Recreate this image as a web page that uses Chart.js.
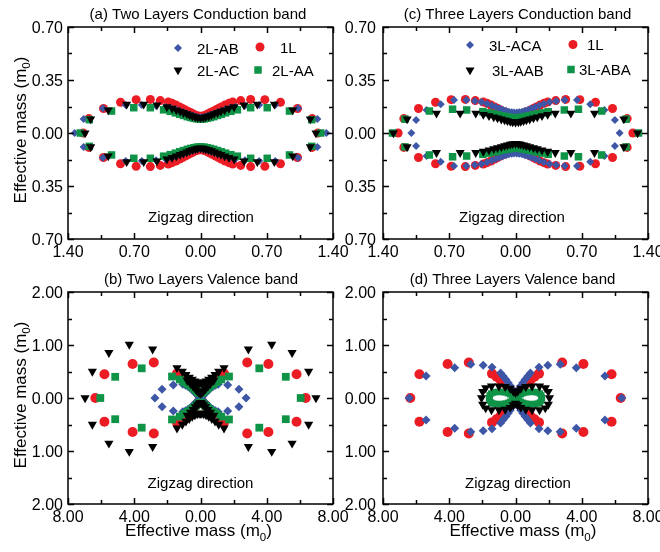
<!DOCTYPE html>
<html>
<head>
<meta charset="utf-8">
<script src="https://cdn.jsdelivr.net/npm/chart.js@4/dist/chart.umd.min.js"></script>
<style>
  html, body { margin: 0; padding: 0; background: #fff; }
  #figure { position: relative; width: 660px; height: 552px; }
  #figure canvas { position: absolute; left: 0; top: 0; }
</style>
</head>
<body>
<div id="figure">
  <canvas id="panelA" width="660" height="552"></canvas>
  <canvas id="panelC" width="660" height="552"></canvas>
  <canvas id="panelB" width="660" height="552"></canvas>
  <canvas id="panelD" width="660" height="552"></canvas>
</div>
<script>
// 有効質量の方向依存性（極座標を直交座標で表示）
// 各点は [横方向の有効質量, 縦方向の有効質量]

// 単層（1L）：伝導帯・価電子帯ともに2層・3層のパネルで共通
const oneLayerCB = [
    [-1.24, 0], [-1.18, 0.095], [-1.025, 0.162], [-0.845, 0.203], [-0.68, 0.22], [-0.53, 0.222], [-0.425, 0.214], [-0.34, 0.205], [-0.3, 0.196], [-0.26, 0.185], [-0.22, 0.172], [-0.19, 0.162], [-0.16, 0.152], [-0.13, 0.142], [-0.1, 0.133], [-0.075, 0.125], [-0.05, 0.118], [-0.025, 0.113], [0, 0.11],
    [0.025, 0.113], [0.05, 0.118], [0.075, 0.125], [0.1, 0.133], [0.13, 0.142], [0.16, 0.152], [0.19, 0.162], [0.22, 0.172], [0.26, 0.185], [0.3, 0.196], [0.34, 0.205], [0.425, 0.214], [0.53, 0.222], [0.68, 0.22], [0.845, 0.203], [1.025, 0.162], [1.18, 0.095], [1.24, 0],
    [-1.18, -0.095], [-1.025, -0.162], [-0.845, -0.203], [-0.68, -0.22], [-0.53, -0.222], [-0.425, -0.214], [-0.34, -0.205], [-0.3, -0.196], [-0.26, -0.185], [-0.22, -0.172], [-0.19, -0.162], [-0.16, -0.152], [-0.13, -0.142], [-0.1, -0.133], [-0.075, -0.125], [-0.05, -0.118], [-0.025, -0.113], [0, -0.11],
    [0.025, -0.113], [0.05, -0.118], [0.075, -0.125], [0.1, -0.133], [0.13, -0.142], [0.16, -0.152], [0.19, -0.162], [0.22, -0.172], [0.26, -0.185], [0.3, -0.196], [0.34, -0.205], [0.425, -0.214], [0.53, -0.222], [0.68, -0.22], [0.845, -0.203], [1.025, -0.162], [1.18, -0.095]
];
const oneLayerVB = [
    [-6.35, 0], [-5.8, 0.447], [-4.1, 0.64], [-2.82, 0.67], [-1.42, 0.46], [-1.15, 0.4], [-0.92, 0.345], [-0.72, 0.29], [-0.54, 0.235], [-0.38, 0.18], [-0.25, 0.13], [-0.14, 0.085], [-0.06, 0.045],
    [0.06, 0.045], [0.14, 0.085], [0.25, 0.13], [0.38, 0.18], [0.54, 0.235], [0.72, 0.29], [0.92, 0.345], [1.15, 0.4], [1.42, 0.46], [2.82, 0.67], [4.1, 0.64], [5.8, 0.447], [6.35, 0],
    [-5.8, -0.447], [-4.1, -0.64], [-2.82, -0.67], [-1.42, -0.46], [-1.15, -0.4], [-0.92, -0.345], [-0.72, -0.29], [-0.54, -0.235], [-0.38, -0.18], [-0.25, -0.13], [-0.14, -0.085], [-0.06, -0.045],
    [0.06, -0.045], [0.14, -0.085], [0.25, -0.13], [0.38, -0.18], [0.54, -0.235], [0.72, -0.29], [0.92, -0.345], [1.15, -0.4], [1.42, -0.46], [2.82, -0.67], [4.1, -0.64], [5.8, -0.447]
];

// 2層：伝導帯
const ab2CB = [
    [-1.33, 0], [-1.235, 0.092], [-1.03, 0.163], [-0.79, 0.185], [-0.62, 0.185], [-0.47, 0.18], [-0.37, 0.172], [-0.31, 0.164], [-0.26, 0.155], [-0.22, 0.146], [-0.18, 0.137], [-0.145, 0.129], [-0.11, 0.121], [-0.08, 0.114], [-0.05, 0.108], [-0.025, 0.104], [0, 0.102],
    [0.025, 0.104], [0.05, 0.108], [0.08, 0.114], [0.11, 0.121], [0.145, 0.129], [0.18, 0.137], [0.22, 0.146], [0.26, 0.155], [0.31, 0.164], [0.37, 0.172], [0.47, 0.18], [0.62, 0.185], [0.79, 0.185], [1.03, 0.163], [1.235, 0.092], [1.33, 0],
    [-1.235, -0.092], [-1.03, -0.163], [-0.79, -0.185], [-0.62, -0.185], [-0.47, -0.18], [-0.37, -0.172], [-0.31, -0.164], [-0.26, -0.155], [-0.22, -0.146], [-0.18, -0.137], [-0.145, -0.129], [-0.11, -0.121], [-0.08, -0.114], [-0.05, -0.108], [-0.025, -0.104], [0, -0.102],
    [0.025, -0.104], [0.05, -0.108], [0.08, -0.114], [0.11, -0.121], [0.145, -0.129], [0.18, -0.137], [0.22, -0.146], [0.26, -0.155], [0.31, -0.164], [0.37, -0.172], [0.47, -0.18], [0.62, -0.185], [0.79, -0.185], [1.03, -0.163], [1.235, -0.092]
];
const ac2CB = [
    [-1.22, 0], [-1.16, 0.092], [-0.975, 0.152], [-0.78, 0.19], [-0.6, 0.19], [-0.46, 0.185], [-0.355, 0.172], [-0.3, 0.162], [-0.255, 0.152], [-0.215, 0.143], [-0.18, 0.134], [-0.145, 0.126], [-0.115, 0.118], [-0.085, 0.111], [-0.055, 0.106], [-0.03, 0.102], [0, 0.1],
    [0.03, 0.102], [0.055, 0.106], [0.085, 0.111], [0.115, 0.118], [0.145, 0.126], [0.18, 0.134], [0.215, 0.143], [0.255, 0.152], [0.3, 0.162], [0.355, 0.172], [0.46, 0.185], [0.6, 0.19], [0.78, 0.19], [0.975, 0.152], [1.16, 0.092], [1.22, 0],
    [-1.16, -0.092], [-0.975, -0.152], [-0.78, -0.19], [-0.6, -0.19], [-0.46, -0.185], [-0.355, -0.172], [-0.3, -0.162], [-0.255, -0.152], [-0.215, -0.143], [-0.18, -0.134], [-0.145, -0.126], [-0.115, -0.118], [-0.085, -0.111], [-0.055, -0.106], [-0.03, -0.102], [0, -0.1],
    [0.03, -0.102], [0.055, -0.106], [0.085, -0.111], [0.115, -0.118], [0.145, -0.126], [0.18, -0.134], [0.215, -0.143], [0.255, -0.152], [0.3, -0.162], [0.355, -0.172], [0.46, -0.185], [0.6, -0.19], [0.78, -0.19], [0.975, -0.152], [1.16, -0.092]
];
const aa2CB = [
    [-1.27, 0], [-1.175, 0.088], [-0.94, 0.145], [-0.705, 0.167], [-0.53, 0.167], [-0.39, 0.153], [-0.32, 0.143], [-0.265, 0.133], [-0.22, 0.124], [-0.18, 0.116], [-0.14, 0.108], [-0.105, 0.102], [-0.07, 0.097], [-0.04, 0.094], [-0.015, 0.092],
    [0.015, 0.092], [0.04, 0.094], [0.07, 0.097], [0.105, 0.102], [0.14, 0.108], [0.18, 0.116], [0.22, 0.124], [0.265, 0.133], [0.32, 0.143], [0.39, 0.153], [0.53, 0.167], [0.705, 0.167], [0.94, 0.145], [1.175, 0.088], [1.27, 0],
    [-1.175, -0.088], [-0.94, -0.145], [-0.705, -0.167], [-0.53, -0.167], [-0.39, -0.153], [-0.32, -0.143], [-0.265, -0.133], [-0.22, -0.124], [-0.18, -0.116], [-0.14, -0.108], [-0.105, -0.102], [-0.07, -0.097], [-0.04, -0.094], [-0.015, -0.092],
    [0.015, -0.092], [0.04, -0.094], [0.07, -0.097], [0.105, -0.102], [0.14, -0.108], [0.18, -0.116], [0.22, -0.124], [0.265, -0.133], [0.32, -0.143], [0.39, -0.153], [0.53, -0.167], [0.705, -0.167], [0.94, -0.145], [1.175, -0.088]
];

// 3層：伝導帯
const aca3CB = [
    [-1.1, 0], [-1.05, 0.086], [-0.94, 0.152], [-0.79, 0.19], [-0.65, 0.218], [-0.52, 0.218], [-0.43, 0.211], [-0.36, 0.204], [-0.3, 0.193], [-0.25, 0.182], [-0.21, 0.172], [-0.17, 0.162], [-0.135, 0.154], [-0.1, 0.147], [-0.07, 0.141], [-0.04, 0.137], [-0.015, 0.135],
    [0.015, 0.135], [0.04, 0.137], [0.07, 0.141], [0.1, 0.147], [0.135, 0.154], [0.17, 0.162], [0.21, 0.172], [0.25, 0.182], [0.3, 0.193], [0.36, 0.204], [0.43, 0.211], [0.52, 0.218], [0.65, 0.218], [0.79, 0.19], [0.94, 0.152], [1.05, 0.086], [1.1, 0],
    [-1.05, -0.086], [-0.94, -0.152], [-0.79, -0.19], [-0.65, -0.218], [-0.52, -0.218], [-0.43, -0.211], [-0.36, -0.204], [-0.3, -0.193], [-0.25, -0.182], [-0.21, -0.172], [-0.17, -0.162], [-0.135, -0.154], [-0.1, -0.147], [-0.07, -0.141], [-0.04, -0.137], [-0.015, -0.135],
    [0.015, -0.135], [0.04, -0.137], [0.07, -0.141], [0.1, -0.147], [0.135, -0.154], [0.17, -0.162], [0.21, -0.172], [0.25, -0.182], [0.3, -0.193], [0.36, -0.204], [0.43, -0.211], [0.52, -0.218], [0.65, -0.218], [0.79, -0.19], [0.94, -0.152], [1.05, -0.086]
];
const aab3CB = [
    [-1.29, 0], [-1.145, 0.092], [-0.835, 0.13], [-0.585, 0.13], [-0.42, 0.13], [-0.34, 0.122], [-0.28, 0.113], [-0.23, 0.105], [-0.19, 0.098], [-0.15, 0.091], [-0.115, 0.085], [-0.085, 0.08], [-0.055, 0.075], [-0.03, 0.072], [0, 0.07],
    [0.03, 0.072], [0.055, 0.075], [0.085, 0.08], [0.115, 0.085], [0.15, 0.091], [0.19, 0.098], [0.23, 0.105], [0.28, 0.113], [0.34, 0.122], [0.42, 0.13], [0.585, 0.13], [0.835, 0.13], [1.145, 0.092], [1.29, 0],
    [-1.145, -0.092], [-0.835, -0.13], [-0.585, -0.13], [-0.42, -0.13], [-0.34, -0.122], [-0.28, -0.113], [-0.23, -0.105], [-0.19, -0.098], [-0.15, -0.091], [-0.115, -0.085], [-0.085, -0.08], [-0.055, -0.075], [-0.03, -0.072], [0, -0.07],
    [0.03, -0.072], [0.055, -0.075], [0.085, -0.08], [0.115, -0.085], [0.15, -0.091], [0.19, -0.098], [0.23, -0.105], [0.28, -0.113], [0.34, -0.122], [0.42, -0.13], [0.585, -0.13], [0.835, -0.13], [1.145, -0.092]
];
const aba3CB = [
    [-1.3, 0], [-1.168, 0.092], [-0.91, 0.145], [-0.665, 0.157], [-0.516, 0.152], [-0.345, 0.141], [-0.28, 0.133], [-0.23, 0.126], [-0.185, 0.12], [-0.145, 0.114], [-0.11, 0.109], [-0.075, 0.105], [-0.045, 0.102], [-0.015, 0.1],
    [0.015, 0.1], [0.045, 0.102], [0.075, 0.105], [0.11, 0.109], [0.145, 0.114], [0.185, 0.12], [0.23, 0.126], [0.28, 0.133], [0.345, 0.141], [0.516, 0.152], [0.665, 0.157], [0.91, 0.145], [1.168, 0.092], [1.3, 0],
    [-1.168, -0.092], [-0.91, -0.145], [-0.665, -0.157], [-0.516, -0.152], [-0.345, -0.141], [-0.28, -0.133], [-0.23, -0.126], [-0.185, -0.12], [-0.145, -0.114], [-0.11, -0.109], [-0.075, -0.105], [-0.045, -0.102], [-0.015, -0.1],
    [0.015, -0.1], [0.045, -0.102], [0.075, -0.105], [0.11, -0.109], [0.145, -0.114], [0.185, -0.12], [0.23, -0.126], [0.28, -0.133], [0.345, -0.141], [0.516, -0.152], [0.665, -0.157], [0.91, -0.145], [1.168, -0.092]
];

// 2層：価電子帯
const ab2VB = [
    [-2.75, 0], [-2.32, 0.167], [-1.64, 0.245], [-1.07, 0.26], [-0.9, 0.24], [-0.74, 0.21], [-0.5, 0.15], [-0.3, 0.09], [-0.15, 0.045], [-0.05, 0.015],
    [0.05, 0.015], [0.15, 0.045], [0.3, 0.09], [0.5, 0.15], [0.74, 0.21], [0.9, 0.24], [1.07, 0.26], [1.64, 0.245], [2.32, 0.167], [2.75, 0],
    [-2.32, -0.167], [-1.64, -0.245], [-1.07, -0.26], [-0.9, -0.24], [-0.74, -0.21], [-0.5, -0.15], [-0.3, -0.09], [-0.15, -0.045], [-0.05, -0.015],
    [0.05, -0.015], [0.15, -0.045], [0.3, -0.09], [0.5, -0.15], [0.74, -0.21], [0.9, -0.24], [1.07, -0.26], [1.64, -0.245], [2.32, -0.167]
];
const ac2VB = [
    [-6.97, 0], [-6.53, 0.5], [-5.53, 0.855], [-4.3, 1.01], [-2.89, 0.92], [-1.42, 0.57], [-1.1, 0.5], [-0.88, 0.44], [-0.68, 0.39], [-0.5, 0.35], [-0.34, 0.32], [-0.2, 0.3], [-0.08, 0.29], [0, 0.29],
    [-0.8, 0.33], [-0.6, 0.27], [-0.44, 0.22], [-0.3, 0.17], [-0.18, 0.13], [-0.08, 0.1], [0, 0.09],
    [0.08, 0.29], [0.2, 0.3], [0.34, 0.32], [0.5, 0.35], [0.68, 0.39], [0.88, 0.44], [1.1, 0.5], [1.42, 0.57], [2.89, 0.92], [4.3, 1.01], [5.53, 0.855], [6.53, 0.5], [6.97, 0],
    [0.08, 0.1], [0.18, 0.13], [0.3, 0.17], [0.44, 0.22], [0.6, 0.27], [0.8, 0.33],
    [-6.53, -0.5], [-5.53, -0.855], [-4.3, -1.01], [-2.89, -0.92], [-1.42, -0.57], [-1.1, -0.5], [-0.88, -0.44], [-0.68, -0.39], [-0.5, -0.35], [-0.34, -0.32], [-0.2, -0.3], [-0.08, -0.29], [0, -0.29],
    [-0.8, -0.33], [-0.6, -0.27], [-0.44, -0.22], [-0.3, -0.17], [-0.18, -0.13], [-0.08, -0.1], [0, -0.09],
    [0.08, -0.29], [0.2, -0.3], [0.34, -0.32], [0.5, -0.35], [0.68, -0.39], [0.88, -0.44], [1.1, -0.5], [1.42, -0.57], [2.89, -0.92], [4.3, -1.01], [5.53, -0.855], [6.53, -0.5],
    [0.08, -0.1], [0.18, -0.13], [0.3, -0.17], [0.44, -0.22], [0.6, -0.27], [0.8, -0.33]
];
const aa2VB = [
    [-6.05, 0], [-5.15, 0.4], [-3.55, 0.56], [-1.72, 0.405], [-1.25, 0.35], [-1.0, 0.3], [-0.78, 0.26], [-0.58, 0.22], [-0.42, 0.18], [-0.28, 0.145], [-0.17, 0.115], [-0.08, 0.095], [0, 0.085],
    [0.08, 0.095], [0.17, 0.115], [0.28, 0.145], [0.42, 0.18], [0.58, 0.22], [0.78, 0.26], [1.0, 0.3], [1.25, 0.35], [1.72, 0.405], [3.55, 0.56], [5.15, 0.4], [6.05, 0],
    [-5.15, -0.4], [-3.55, -0.56], [-1.72, -0.405], [-1.25, -0.35], [-1.0, -0.3], [-0.78, -0.26], [-0.58, -0.22], [-0.42, -0.18], [-0.28, -0.145], [-0.17, -0.115], [-0.08, -0.095], [0, -0.085],
    [0.08, -0.095], [0.17, -0.115], [0.28, -0.145], [0.42, -0.18], [0.58, -0.22], [0.78, -0.26], [1.0, -0.3], [1.25, -0.35], [1.72, -0.405], [3.55, -0.56], [5.15, -0.4]
];

// 3層：価電子帯
const aca3VB = [
    [-6.42, 0], [-5.4, 0.415], [-3.67, 0.57], [-2.7, 0.635], [-1.95, 0.62], [-1.42, 0.58], [-0.9, 0.47], [-0.74, 0.41], [-0.58, 0.35], [-0.44, 0.29], [-0.32, 0.23], [-0.21, 0.17], [-0.12, 0.115], [-0.05, 0.065], [0, 0.035],
    [0.05, 0.065], [0.12, 0.115], [0.21, 0.17], [0.32, 0.23], [0.44, 0.29], [0.58, 0.35], [0.74, 0.41], [0.9, 0.47], [1.42, 0.58], [1.95, 0.62], [2.7, 0.635], [3.67, 0.57], [5.4, 0.415], [6.42, 0],
    [-5.4, -0.415], [-3.67, -0.57], [-2.7, -0.635], [-1.95, -0.62], [-1.42, -0.58], [-0.9, -0.47], [-0.74, -0.41], [-0.58, -0.35], [-0.44, -0.29], [-0.32, -0.23], [-0.21, -0.17], [-0.12, -0.115], [-0.05, -0.065], [0, -0.035],
    [0.05, -0.065], [0.12, -0.115], [0.21, -0.17], [0.32, -0.23], [0.44, -0.29], [0.58, -0.35], [0.74, -0.41], [0.9, -0.47], [1.42, -0.58], [1.95, -0.62], [2.7, -0.635], [3.67, -0.57], [5.4, -0.415]
];
const aab3VB = [
    [-2.05, 0], [-1.98, 0.12], [-1.8, 0.19], [-1.45, 0.225], [-1.0, 0.225], [-0.62, 0.215], [-0.32, 0.18], [-0.14, 0.13], [0, 0.1],
    [0.14, 0.13], [0.32, 0.18], [0.62, 0.215], [1.0, 0.225], [1.45, 0.225], [1.8, 0.19], [1.98, 0.12], [2.05, 0],
    [-1.98, -0.12], [-1.8, -0.19], [-1.45, -0.225], [-1.0, -0.225], [-0.62, -0.215], [-0.32, -0.18], [-0.14, -0.13], [0, -0.1],
    [0.14, -0.13], [0.32, -0.18], [0.62, -0.215], [1.0, -0.225], [1.45, -0.225], [1.8, -0.19], [1.98, -0.12]
];
const aba3VB = [
    [-1.6, 0], [-1.56, 0.05], [-1.47, 0.085], [-1.35, 0.105], [-1.2, 0.112], [-1.05, 0.115], [-0.9, 0.115], [-0.75, 0.112], [-0.6, 0.105], [-0.45, 0.09], [-0.32, 0.07], [-0.2, 0.05], [-0.1, 0.03], [0, 0.015],
    [0.1, 0.03], [0.2, 0.05], [0.32, 0.07], [0.45, 0.09], [0.6, 0.105], [0.75, 0.112], [0.9, 0.115], [1.05, 0.115], [1.2, 0.112], [1.35, 0.105], [1.47, 0.085], [1.56, 0.05], [1.6, 0],
    [-1.56, -0.05], [-1.47, -0.085], [-1.35, -0.105], [-1.2, -0.112], [-1.05, -0.115], [-0.9, -0.115], [-0.75, -0.112], [-0.6, -0.105], [-0.45, -0.09], [-0.32, -0.07], [-0.2, -0.05], [-0.1, -0.03], [0, -0.015],
    [0.1, -0.03], [0.2, -0.05], [0.32, -0.07], [0.45, -0.09], [0.6, -0.105], [0.75, -0.112], [0.9, -0.115], [1.05, -0.115], [1.2, -0.112], [1.35, -0.105], [1.47, -0.085], [1.56, -0.05]
];

// 目盛り（値とラベル）
const cbXTicks = [-1.4, -0.7, 0, 0.7, 1.4];
const cbXLabels = ['1.40', '0.70', '0.00', '0.70', '1.40'];
const cbXMinor = [-1.05, -0.35, 0.35, 1.05];
const cbYTicks = [-0.7, -0.35, 0, 0.35, 0.7];
const cbYLabels = ['0.70', '0.35', '0.00', '0.35', '0.70'];
const cbYMinor = [-0.525, -0.175, 0.175, 0.525];
const vbXTicks = [-8, -4, 0, 4, 8];
const vbXLabels = ['8.00', '4.00', '0.00', '4.00', '8.00'];
const vbXMinor = [-6, -2, 2, 6];
const vbYTicks = [-2, -1, 0, 1, 2];
const vbYLabels = ['2.00', '1.00', '0.00', '1.00', '2.00'];
const vbYMinor = [-1.5, -0.5, 0.5, 1.5];

const FONT = '"Liberation Sans", Arial, Helvetica, sans-serif';
const RED = '#ec1c24';
const BLUE = '#3d56a6';
const BLACK = '#000000';
const GREEN = '#0f9347';

// マーカーを直接描く（凡例用）
function drawMarker(ctx, shape, x, y, r, color) {
    ctx.fillStyle = color;
    ctx.beginPath();
    if (shape === 'circle') {
        ctx.arc(x, y, r, 0, Math.PI * 2);
    } else if (shape === 'diamond') {
        ctx.moveTo(x, y - r); ctx.lineTo(x + r, y); ctx.lineTo(x, y + r); ctx.lineTo(x - r, y);
    } else if (shape === 'triangle') {
        const s = r * Math.sin(Math.PI / 3);
        ctx.moveTo(x, y + r); ctx.lineTo(x - s, y - r / 2); ctx.lineTo(x + s, y - r / 2);
    } else {
        const h = r * Math.SQRT1_2;
        ctx.rect(x - h, y - h, 2 * h, 2 * h);
    }
    ctx.closePath();
    ctx.fill();
}

// "Effective mass (m0)" を下付き文字つきで x を中心に描く
function drawMassLabel(ctx, x, y, size) {
    const main = 'Effective mass (m', sub = '0', close = ')';
    ctx.font = size + 'px ' + FONT;
    const w1 = ctx.measureText(main).width;
    const w3 = ctx.measureText(close).width;
    ctx.font = (size * 0.68) + 'px ' + FONT;
    const w2 = ctx.measureText(sub).width;
    const left = x - (w1 + w2 + w3) / 2;
    ctx.textAlign = 'left';
    ctx.font = size + 'px ' + FONT;
    ctx.fillText(main, left, y);
    ctx.font = (size * 0.68) + 'px ' + FONT;
    ctx.fillText(sub, left + w1, y + size * 0.28);
    ctx.font = size + 'px ' + FONT;
    ctx.fillText(close, left + w1 + w2, y);
}

// 枠・内向き目盛り・目盛りラベル・各種テキスト
const panelDecor = {
    id: 'panelDecor',
    afterDraw(chart, args, o) {
        const ctx = chart.ctx;
        const a = chart.chartArea;
        const sx = chart.scales.x, sy = chart.scales.y;
        const cx = (a.left + a.right) / 2;
        ctx.save();

        ctx.strokeStyle = '#000';
        ctx.lineWidth = 1.5;
        ctx.strokeRect(a.left, a.top, a.right - a.left, a.bottom - a.top);

        ctx.beginPath();
        const xMarks = (vals, len) => vals.forEach(v => {
            const px = Math.round(sx.getPixelForValue(v)) + 0.5;
            ctx.moveTo(px, a.bottom); ctx.lineTo(px, a.bottom - len);
            ctx.moveTo(px, a.top); ctx.lineTo(px, a.top + len);
        });
        const yMarks = (vals, len) => vals.forEach(v => {
            const py = Math.round(sy.getPixelForValue(v)) + 0.5;
            ctx.moveTo(a.left, py); ctx.lineTo(a.left + len, py);
            ctx.moveTo(a.right, py); ctx.lineTo(a.right - len, py);
        });
        xMarks(o.xTicks, 6); xMarks(o.xMinor, 4);
        yMarks(o.yTicks, 6); yMarks(o.yMinor, 4);
        ctx.stroke();

        ctx.fillStyle = '#000';
        ctx.font = '16px ' + FONT;
        ctx.textAlign = 'center';
        o.xTicks.forEach((v, i) => ctx.fillText(o.xLabels[i], sx.getPixelForValue(v), a.bottom + 17.5));
        ctx.textAlign = 'right';
        o.yTicks.forEach((v, i) => ctx.fillText(o.yLabels[i], a.left - o.yPad, sy.getPixelForValue(v) + 5.7));

        ctx.textAlign = 'center';
        ctx.font = '15px ' + FONT;
        ctx.fillText(o.title, cx + o.titleDx, a.top - 8);
        ctx.fillText('Zigzag direction', cx + o.noteDx, a.bottom - o.noteUp);

        (o.legend || []).forEach(item => {
            drawMarker(ctx, item.shape, item.mx, item.y, item.r, item.color);
            ctx.fillStyle = '#000';
            ctx.textAlign = 'left';
            ctx.font = '15px ' + FONT;
            ctx.fillText(item.label, item.tx, item.y + 5.5);
        });

        if (o.yTitle) {
            ctx.save();
            ctx.translate(25.5, (a.top + a.bottom) / 2 - 3);
            ctx.rotate(-Math.PI / 2);
            drawMassLabel(ctx, 0, 0, 17);
            ctx.restore();
        }
        if (o.xTitle) {
            drawMassLabel(ctx, cx + o.xTitleDx, a.bottom + 32, 17);
        }
        ctx.restore();
    }
};

const STYLE = { circle: 'circle', diamond: 'rectRot', triangle: 'triangle', square: 'rect' };

function series(label, points, shape, color, r, order) {
    return {
        label: label,
        data: points.map(p => ({ x: p[0], y: p[1] })),
        pointStyle: STYLE[shape],
        pointRotation: shape === 'triangle' ? 180 : 0,
        pointRadius: r,
        pointBackgroundColor: color,
        pointBorderWidth: 0,
        showLine: false,
        order: order
    };
}

// 4枚のキャンバスは全面サイズで重ね、padding で各パネルの描画域を決める
function makePanel(id, datasets, xMax, yMax, padding, decor) {
    return new Chart(document.getElementById(id), {
        type: 'scatter',
        data: { datasets: datasets },
        options: {
            responsive: false,
            animation: false,
            events: [],
            layout: { padding: padding },
            plugins: {
                legend: { display: false },
                tooltip: { enabled: false },
                panelDecor: decor
            },
            scales: {
                x: { type: 'linear', display: false, min: -xMax, max: xMax },
                y: { type: 'linear', display: false, min: -yMax, max: yMax }
            }
        },
        plugins: [panelDecor]
    });
}

const cbAxes = { xTicks: cbXTicks, xLabels: cbXLabels, xMinor: cbXMinor, yTicks: cbYTicks, yLabels: cbYLabels, yMinor: cbYMinor };
const vbAxes = { xTicks: vbXTicks, xLabels: vbXLabels, xMinor: vbXMinor, yTicks: vbYTicks, yLabels: vbYLabels, yMinor: vbYMinor };

// (a) 2層 伝導帯
makePanel('panelA', [
    series('2L-AC', ac2CB, 'triangle', BLACK, 5.2, 1),
    series('2L-AA', aa2CB, 'square', GREEN, 5.3, 2),
    series('2L-AB', ab2CB, 'diamond', BLUE, 4, 3),
    series('1L', oneLayerCB, 'circle', RED, 4.5, 4)
], 1.4, 0.7, { left: 68, top: 27, right: 327, bottom: 313 }, Object.assign({}, cbAxes, {
    title: '(a) Two Layers Conduction band', titleDx: -2.5, noteDx: 0.5, noteUp: 17, yPad: 5, yTitle: true,
    legend: [
        { label: '2L-AB', shape: 'diamond', color: BLUE, r: 4, mx: 178, tx: 197, y: 48 },
        { label: '1L', shape: 'circle', color: RED, r: 4.5, mx: 260, tx: 280, y: 47 },
        { label: '2L-AC', shape: 'triangle', color: BLACK, r: 5.2, mx: 178, tx: 197, y: 70 },
        { label: '2L-AA', shape: 'square', color: GREEN, r: 5.3, mx: 258, tx: 272, y: 70 }
    ]
}));

// (c) 3層 伝導帯
makePanel('panelC', [
    series('3L-AAB', aab3CB, 'triangle', BLACK, 5.2, 1),
    series('3L-ABA', aba3CB, 'square', GREEN, 5.3, 2),
    series('3L-ACA', aca3CB, 'diamond', BLUE, 4, 3),
    series('1L', oneLayerCB, 'circle', RED, 4.5, 4)
], 1.4, 0.7, { left: 383, top: 27, right: 12, bottom: 313 }, Object.assign({}, cbAxes, {
    title: '(c) Three Layers Conduction band', titleDx: 2, noteDx: -3.5, noteUp: 17, yPad: 7,
    legend: [
        { label: '3L-ACA', shape: 'diamond', color: BLUE, r: 4, mx: 470, tx: 489, y: 45 },
        { label: '1L', shape: 'circle', color: RED, r: 4.5, mx: 573, tx: 587, y: 44.5 },
        { label: '3L-AAB', shape: 'triangle', color: BLACK, r: 5.2, mx: 470, tx: 492, y: 70 },
        { label: '3L-ABA', shape: 'square', color: GREEN, r: 5.3, mx: 571, tx: 579, y: 69.5 }
    ]
}));

// (b) 2層 価電子帯
makePanel('panelB', [
    series('2L-AC', ac2VB, 'triangle', BLACK, 5.3, 1),
    series('2L-AA', aa2VB, 'square', GREEN, 5.5, 2),
    series('2L-AB', ab2VB, 'diamond', BLUE, 4.5, 3),
    series('1L', oneLayerVB, 'circle', RED, 5, 4)
], 8, 2, { left: 68, top: 292, right: 327, bottom: 48 }, Object.assign({}, vbAxes, {
    title: '(b) Two Layers Valence band', titleDx: 0.5, noteDx: 0, noteUp: 16, yPad: 5, yTitle: true, xTitle: true, xTitleDx: -2
}));

// (d) 3層 価電子帯
makePanel('panelD', [
    series('3L-AAB', aab3VB, 'triangle', BLACK, 5.3, 1),
    series('3L-ABA', aba3VB, 'square', GREEN, 4.5, 2),
    series('3L-ACA', aca3VB, 'diamond', BLUE, 4.5, 3),
    series('1L', oneLayerVB, 'circle', RED, 5, 4)
], 8, 2, { left: 383, top: 292, right: 12, bottom: 48 }, Object.assign({}, vbAxes, {
    title: '(d) Three Layers Valence band', titleDx: -3, noteDx: 2.5, noteUp: 16, yPad: 7, xTitle: true, xTitleDx: 7.5
}));
</script>
</body>
</html>
